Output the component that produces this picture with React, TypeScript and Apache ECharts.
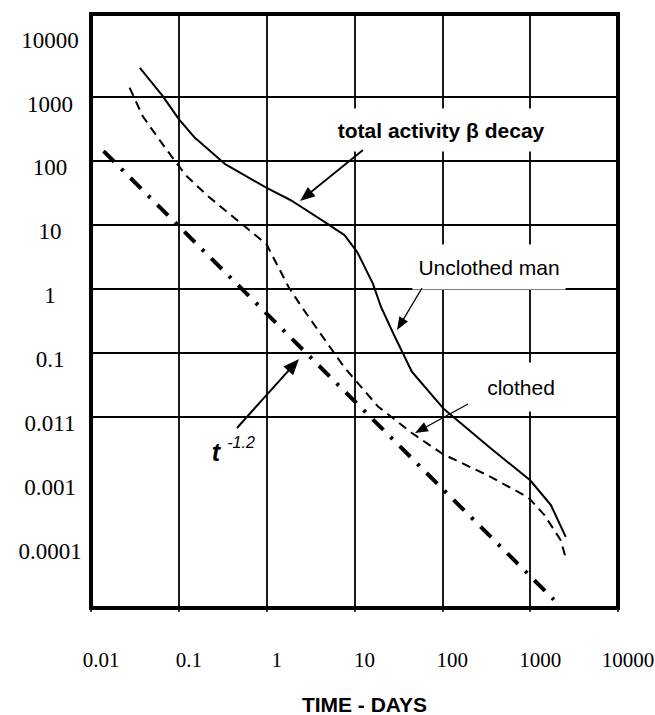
import React, { useEffect, useRef } from "react";
import * as echarts from "echarts";

// ---- data ----
const xTicks = [0.01, 0.1, 1, 10, 100, 1000, 10000];
const xTickLabels = ["0.01", "0.1", "1", "10", "100", "1000", "10000"];
const yTicks = [10000, 1000, 100, 10, 1, 0.1, 0.01, 0.001, 0.0001];
const yTickLabels = ["10000", "1000", "100", "10", "1", "0.1", "0.011", "0.001", "0.0001"];
const yGridValues = [1000, 100, 10, 1, 0.1, 0.01, 0.001, 0.0001];

const unclothedDays = [0.036, 0.065, 0.1, 0.149, 0.333, 1.0, 1.91, 4.6, 7.7, 10.8, 16.2, 20, 29, 45, 105, 352, 1000, 1720, 2540];
const unclothedActivity = [2860, 1050, 450, 237, 90, 37.7, 24, 11, 6.9, 3.7, 1.2, 0.52, 0.173, 0.05, 0.0129, 0.0032, 0.001, 0.00041, 0.00013];

const clothedDays = [0.0275, 0.039, 0.06, 0.09, 0.124, 0.212, 0.57, 1.0, 1.77, 2.5, 5.0, 7.7, 18.5, 45, 100, 325, 500, 950, 1440, 2230, 2540];
const clothedActivity = [1400, 495, 215, 100, 57, 28.5, 9.3, 4.9, 1.07, 0.52, 0.134, 0.058, 0.0143, 0.0055, 0.0026, 0.0012, 0.00087, 0.00054, 0.00029, 0.000115, 0.000061];

const powerDays = [0.0139, 1860];
const powerActivity = [142, 0.0000135];

const SERIF = "Liberation Serif";
const SANS = "Liberation Sans";

function zip(a: number[], b: number[]) {
  return a.map((v, i) => [v, b[i]]);
}

function arrow(x1: number, y1: number, x2: number, y2: number, len: number, halfW: number, lw: number) {
  const dx = x2 - x1;
  const dy = y2 - y1;
  const d = Math.sqrt(dx * dx + dy * dy);
  const ux = dx / d;
  const uy = dy / d;
  const bx = x2 - ux * len;
  const by = y2 - uy * len;
  const px = -uy * halfW;
  const py = ux * halfW;
  return [
    { type: "line", z: 100, shape: { x1, y1, x2: bx + ux * 2, y2: by + uy * 2 }, style: { stroke: "#000", lineWidth: lw } },
    { type: "polygon", z: 100, shape: { points: [[x2, y2], [bx + px, by + py], [bx - px, by - py]] }, style: { fill: "#000" } },
  ];
}

function logLabel(ticks: number[], labels: string[]) {
  return (v: number) => {
    const lv = Math.log10(v);
    const i = ticks.findIndex((t) => Math.abs(Math.log10(t) - lv) < 0.01);
    return i >= 0 ? "{s|" + labels[i] + "}" : "";
  };
}

function annText(x: number, y: number, text: string, size: number, weight: string, italic: boolean, bg: boolean, pad: number[], family: string = SANS) {
  const style: any = {
    text,
    fontFamily: family,
    fontSize: size,
    fontWeight: weight,
    fontStyle: italic ? "italic" : "normal",
    fill: "#000",
    align: "center",
    verticalAlign: "middle",
  };
  if (bg) {
    style.backgroundColor = "#fff";
    style.padding = pad;
  }
  return { type: "text", z: 100, x, y, style };
}

export default function App() {
  const ref = useRef<HTMLDivElement>(null);
  useEffect(() => {
    if (!ref.current) return;
    const chart = echarts.init(ref.current, undefined, { renderer: "svg" });
    const option: any = {
      animation: false,
      backgroundColor: "#fff",
      grid: {
        left: 91,
        right: 37,
        top: 14,
        bottom: 107,
        show: true,
        borderColor: "#000",
        borderWidth: 4,
        backgroundColor: "transparent",
        outerBoundsMode: "none",
        containLabel: false,
      },
      xAxis: {
        type: "log",
        logBase: 10,
        min: 0.01,
        max: 10000,
        name: "TIME - DAYS",
        nameLocation: "middle",
        nameGap: 86,
        nameTextStyle: { fontFamily: SANS, fontWeight: "bold", fontSize: 21, color: "#000", padding: [0, 0, 0, 20] },
        axisLine: { show: false },
        axisTick: { show: true, length: 4, lineStyle: { color: "#000", width: 1.5 } },
        splitLine: { show: true, lineStyle: { color: "#000", width: 1.8 } },
        minorTick: { show: false },
        minorSplitLine: { show: false },
        axisLabel: {
          formatter: logLabel(xTicks, xTickLabels),
          fontFamily: SERIF,
          fontSize: 21,
          color: "#000",
          margin: 41,
          padding: [0, 0, 0, 20],
          showMinLabel: true,
          showMaxLabel: true,
          rich: { s: { fontFamily: SERIF, fontSize: 21, color: "#000" } },
        },
      },
      yAxis: {
        type: "log",
        logBase: 10,
        min: 0.00001,
        max: 19952.6,
        axisLine: { show: false },
        axisTick: { show: false },
        splitLine: { show: false },
        minorTick: { show: false },
        minorSplitLine: { show: false },
        axisLabel: {
          formatter: logLabel(yTicks, yTickLabels),
          fontFamily: SERIF,
          fontSize: 23,
          color: "#000",
          align: "center",
          margin: 41,
          padding: [14, 0, 0, 0],
          showMinLabel: false,
          showMaxLabel: false,
          rich: { s: { fontFamily: SERIF, fontSize: 23, color: "#000" } },
        },
      },
      series: [
        {
          name: "grid",
          type: "line",
          data: [],
          z: 1,
          silent: true,
          markLine: {
            silent: true,
            symbol: ["none", "none"],
            label: { show: false },
            lineStyle: { type: "solid", color: "#000", width: 1.8 },
            emphasis: { disabled: true },
            data: yGridValues.map((v) => ({ yAxis: v })),
          },
        },
        {
          name: "Unclothed man",
          type: "line",
          z: 5,
          symbol: "none",
          data: zip(unclothedDays, unclothedActivity),
          lineStyle: { color: "#000", width: 2, type: "solid" },
        },
        {
          name: "clothed",
          type: "line",
          z: 5,
          symbol: "none",
          data: zip(clothedDays, clothedActivity),
          lineStyle: { color: "#000", width: 2, type: [9, 6] },
        },
        {
          name: "t^-1.2",
          type: "line",
          z: 5,
          symbol: "none",
          data: zip(powerDays, powerActivity),
          lineStyle: { color: "#000", width: 4, type: [15, 10, 3, 10], cap: "butt" },
        },
      ],
      graphic: [
        annText(441, 130, "total activity β decay", 21, "bold", false, true, [11, 8, 11, 8]),
        ...arrow(363, 150, 300, 201, 15, 6, 1.8),
        annText(489, 267, "Unclothed man", 21, "normal", false, true, [12, 6, 12, 6]),
        ...arrow(422, 288, 397, 330, 13, 5, 1.3),
        annText(521, 387, "clothed", 21, "normal", false, true, [14, 6, 14, 6]),
        ...arrow(468, 404, 415, 433, 13, 5, 1.3),
        annText(216, 452, "t", 25, "bold", true, false, [0]),
        annText(241, 442, "-1.2", 16, "normal", true, false, [0]),
        ...arrow(237, 428, 299, 359, 16, 6.5, 2),
      ],
    };
    chart.setOption(option);
    return () => chart.dispose();
  }, []);
  return (
    <div
      ref={ref}
      style={{ position: "fixed", left: 0, top: 0, width: 655, height: 715, background: "#fff" }}
    />
  );
}
